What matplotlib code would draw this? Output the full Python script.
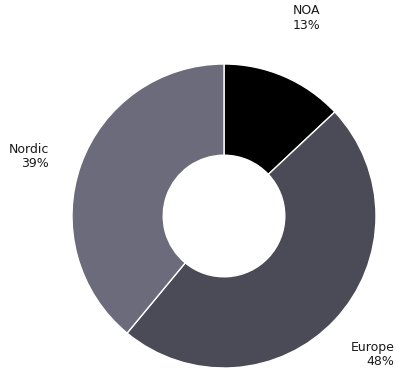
import numpy as np
import matplotlib
matplotlib.use('Agg')
import matplotlib.pyplot as plt

# datos del gráfico
regions = ['NOA', 'Europe', 'Nordic']
shares = [13, 48, 39]
colors = ['#000000', '#4b4b58', '#6b6b7b']
# pequeños ajustes de las etiquetas (píxeles)
nudges = [(0, 7), (-3, 4), (1, -11)]

fig = plt.figure(figsize=(3.99, 3.72), dpi=100)
ax = fig.add_axes([0, 0, 1, 1])

wedges, _ = ax.pie(shares, colors=colors, startangle=90, counterclock=False,
                   radius=1.0, wedgeprops=dict(width=0.6, edgecolor='white', linewidth=1))

# centro del anillo en píxeles (224, 216 desde arriba), radio 152 px
R = 152.0
cx, cy = 224.0, 372.0 - 216.0
ax.set_xlim(-cx / R, (399 - cx) / R)
ax.set_ylim(-cy / R, (372 - cy) / R)
ax.set_aspect('equal')
ax.axis('off')

# etiquetas fuera del anillo
total = sum(shares)
acc = 0
for name, val, nd in zip(regions, shares, nudges):
    mid = 90 - (acc + val / 2) / total * 360
    acc += val
    a = np.deg2rad(mid)
    d = 1.37
    ax.annotate(f'{name}\n{val}%', (d * np.cos(a), d * np.sin(a)), xytext=nd,
                textcoords='offset pixels', ha='center', va='center',
                multialignment='right', fontsize=9, color='#1a1a1a', linespacing=1.15)

fig.savefig('out.png', dpi=100)
